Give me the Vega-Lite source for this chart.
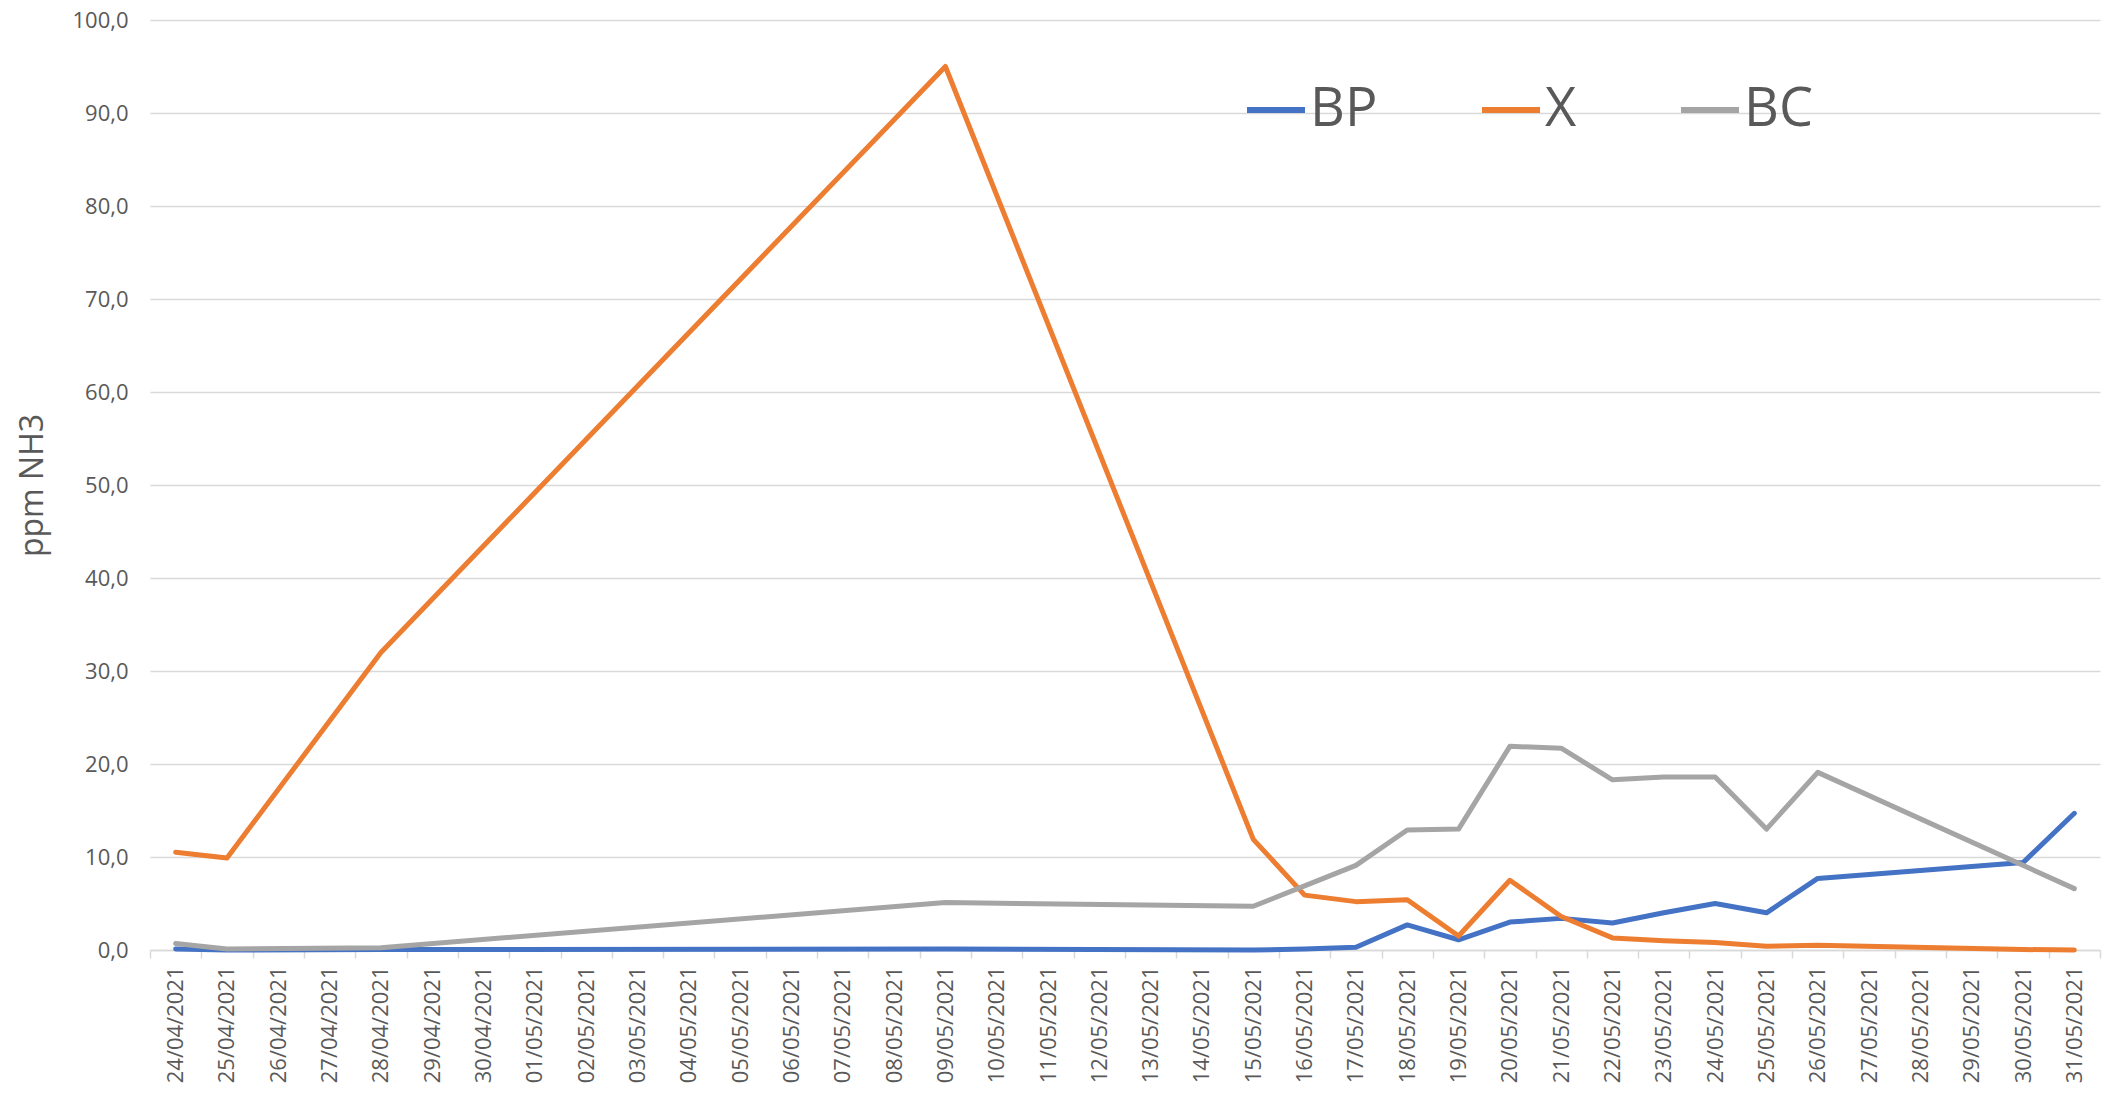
{
  "$schema": "https://vega.github.io/schema/vega-lite/v6.json",
  "autosize": {"type": "none"},
  "width": 1950,
  "height": 930,
  "padding": {"left": 150, "top": 20, "right": 5, "bottom": 149},
  "background": "white",
  "config": {
    "view": {"stroke": null},
    "font": "Open Sans"
  },
  "data": {
    "values": [
      {"d": "2021-04-24", "s": "BP", "v": 0.1},
      {"d": "2021-04-25", "s": "BP", "v": 0.0},
      {"d": "2021-04-28", "s": "BP", "v": 0.05},
      {"d": "2021-05-09", "s": "BP", "v": 0.1},
      {"d": "2021-05-15", "s": "BP", "v": 0.0},
      {"d": "2021-05-16", "s": "BP", "v": 0.1},
      {"d": "2021-05-17", "s": "BP", "v": 0.3},
      {"d": "2021-05-18", "s": "BP", "v": 2.7},
      {"d": "2021-05-19", "s": "BP", "v": 1.1},
      {"d": "2021-05-20", "s": "BP", "v": 3.0},
      {"d": "2021-05-21", "s": "BP", "v": 3.4},
      {"d": "2021-05-22", "s": "BP", "v": 2.9},
      {"d": "2021-05-23", "s": "BP", "v": 4.0},
      {"d": "2021-05-24", "s": "BP", "v": 5.0},
      {"d": "2021-05-25", "s": "BP", "v": 4.0},
      {"d": "2021-05-26", "s": "BP", "v": 7.7},
      {"d": "2021-05-30", "s": "BP", "v": 9.4},
      {"d": "2021-05-31", "s": "BP", "v": 14.7},
      {"d": "2021-04-24", "s": "X", "v": 10.5},
      {"d": "2021-04-25", "s": "X", "v": 9.9},
      {"d": "2021-04-28", "s": "X", "v": 32.0},
      {"d": "2021-05-09", "s": "X", "v": 95.0},
      {"d": "2021-05-15", "s": "X", "v": 11.9},
      {"d": "2021-05-16", "s": "X", "v": 5.9},
      {"d": "2021-05-17", "s": "X", "v": 5.2},
      {"d": "2021-05-18", "s": "X", "v": 5.4},
      {"d": "2021-05-19", "s": "X", "v": 1.5},
      {"d": "2021-05-20", "s": "X", "v": 7.5},
      {"d": "2021-05-21", "s": "X", "v": 3.6},
      {"d": "2021-05-22", "s": "X", "v": 1.3},
      {"d": "2021-05-23", "s": "X", "v": 1.0},
      {"d": "2021-05-24", "s": "X", "v": 0.8},
      {"d": "2021-05-25", "s": "X", "v": 0.4},
      {"d": "2021-05-26", "s": "X", "v": 0.5},
      {"d": "2021-05-30", "s": "X", "v": 0.05},
      {"d": "2021-05-31", "s": "X", "v": 0.0},
      {"d": "2021-04-24", "s": "BC", "v": 0.7},
      {"d": "2021-04-25", "s": "BC", "v": 0.1},
      {"d": "2021-04-28", "s": "BC", "v": 0.25},
      {"d": "2021-05-09", "s": "BC", "v": 5.1},
      {"d": "2021-05-15", "s": "BC", "v": 4.7},
      {"d": "2021-05-16", "s": "BC", "v": 6.9},
      {"d": "2021-05-17", "s": "BC", "v": 9.1},
      {"d": "2021-05-18", "s": "BC", "v": 12.9},
      {"d": "2021-05-19", "s": "BC", "v": 13.0},
      {"d": "2021-05-20", "s": "BC", "v": 21.9},
      {"d": "2021-05-21", "s": "BC", "v": 21.7},
      {"d": "2021-05-22", "s": "BC", "v": 18.3},
      {"d": "2021-05-23", "s": "BC", "v": 18.6},
      {"d": "2021-05-24", "s": "BC", "v": 18.6},
      {"d": "2021-05-25", "s": "BC", "v": 13.0},
      {"d": "2021-05-26", "s": "BC", "v": 19.1},
      {"d": "2021-05-31", "s": "BC", "v": 6.6}
    ]
  },
  "mark": {"type": "line", "strokeWidth": 5, "strokeJoin": "round", "strokeCap": "round"},
  "encoding": {
    "x": {
      "field": "d",
      "type": "ordinal",
      "scale": {
        "type": "band",
        "paddingInner": 0,
        "paddingOuter": 0,
        "domain": [
          "2021-04-24", "2021-04-25", "2021-04-26", "2021-04-27", "2021-04-28", "2021-04-29", "2021-04-30",
          "2021-05-01", "2021-05-02", "2021-05-03", "2021-05-04", "2021-05-05", "2021-05-06", "2021-05-07",
          "2021-05-08", "2021-05-09", "2021-05-10", "2021-05-11", "2021-05-12", "2021-05-13", "2021-05-14",
          "2021-05-15", "2021-05-16", "2021-05-17", "2021-05-18", "2021-05-19", "2021-05-20", "2021-05-21",
          "2021-05-22", "2021-05-23", "2021-05-24", "2021-05-25", "2021-05-26", "2021-05-27", "2021-05-28",
          "2021-05-29", "2021-05-30", "2021-05-31"
        ]
      },
      "axis": {
        "title": null,
        "labelExpr": "isString(datum.value) ? substring(datum.value, 8, 10) + '/' + substring(datum.value, 5, 7) + '/' + substring(datum.value, 0, 4) : ''",
        "labelAngle": 270,
        "labelFontSize": 22,
        "labelColor": "#595959",
        "labelPadding": 8,
        "tickBand": "extent",
        "tickSize": 8,
        "tickColor": "#d9d9d9",
        "tickWidth": 1.5,
        "domainColor": "#d9d9d9",
        "domainWidth": 1.5,
        "grid": false
      }
    },
    "y": {
      "field": "v",
      "type": "quantitative",
      "scale": {"domain": [0, 100], "nice": false},
      "axis": {
        "title": "ppm NH3",
        "titleFontSize": 32,
        "titleFontWeight": "normal",
        "titleColor": "#595959",
        "titlePadding": 22,
        "values": [0, 10, 20, 30, 40, 50, 60, 70, 80, 90, 100],
        "labelExpr": "replace(format(datum.value, '.1f'), '.', ',')",
        "labelFontSize": 22,
        "labelColor": "#595959",
        "labelPadding": 22,
        "ticks": false,
        "domain": false,
        "grid": true,
        "gridColor": "#d9d9d9",
        "gridWidth": 1.5
      }
    },
    "color": {
      "field": "s",
      "type": "nominal",
      "scale": {"domain": ["BP", "X", "BC"], "range": ["#4472C4", "#ED7D31", "#A5A5A5"]},
      "legend": {
        "title": null,
        "orient": "none",
        "direction": "horizontal",
        "legendX": 1094,
        "legendY": 58,
        "padding": 0,
        "symbolType": "stroke",
        "symbolSize": 3364,
        "symbolStrokeWidth": 6,
        "labelFont": "Open Sans",
        "labelFontSize": 54,
        "labelColor": "#595959",
        "labelOffset": 2,
        "columnPadding": 92
      }
    }
  }
}
